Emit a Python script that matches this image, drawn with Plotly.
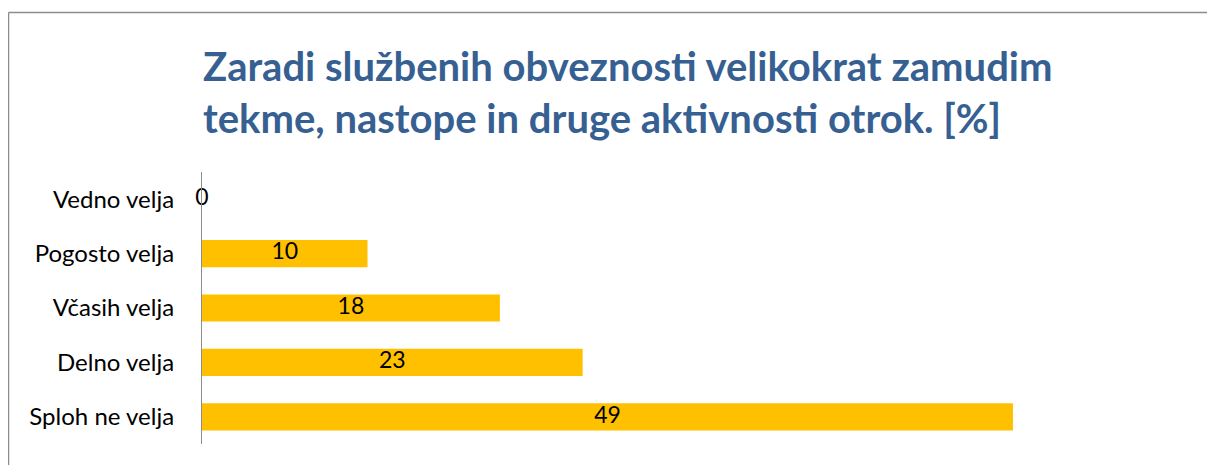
import plotly.graph_objects as go

categories = ["Vedno velja", "Pogosto velja", "Včasih velja", "Delno velja", "Sploh ne velja"]
values = [0, 10, 18, 23, 49]
title_lines = ["Zaradi službenih obveznosti velikokrat zamudim",
               "tekme, nastope in druge aktivnosti otrok. [%]"]

OFF = 8  # page offset of the plot div
W, H = 1215 - OFF, 465 - OFF
L, R, T, B = 202 - OFF, 20, 172 - OFF, 21
pw, ph = W - L - R, H - T - B

def px_x(x):
    return (x - OFF - L) / pw

def px_y(y):
    return (H - B - (y - OFF)) / ph

fig = go.Figure()
fig.add_trace(go.Bar(
    x=values, y=categories, orientation="h", width=0.5,
    marker=dict(color="#FFC000", line=dict(width=0)),
    hoverinfo="skip",
))
fig.add_trace(go.Scatter(
    x=[v / 2 for v in values], y=categories, mode="text",
    text=[str(v) for v in values], textposition="middle center",
    textfont=dict(family="Lato", size=23, color="#000000"),
    hoverinfo="skip", cliponaxis=False,
))

fig.add_annotation(
    xref="paper", yref="paper", x=px_x(201), y=px_y(40),
    xanchor="left", yanchor="top", align="left", showarrow=False,
    text="<b>" + "<br>".join(title_lines) + "</b>",
    font=dict(family="Lato", size=40, color="#376092"),
)

# chart-area border (left and top edges visible in the frame)
fig.add_shape(type="line", xref="paper", yref="paper",
              x0=px_x(8.5), x1=px_x(8.5), y0=px_y(12.5), y1=px_y(470),
              line=dict(color="#8C8C8C", width=1.5))
fig.add_shape(type="line", xref="paper", yref="paper",
              x0=px_x(8.5), x1=px_x(1216), y0=px_y(12.5), y1=px_y(12.5),
              line=dict(color="#8C8C8C", width=1.5))

fig.update_layout(
    width=W, height=H,
    margin=dict(l=L, r=R, t=T, b=B),
    paper_bgcolor="white", plot_bgcolor="white",
    showlegend=False,
    xaxis=dict(range=[0, 60], showgrid=False, zeroline=False, showticklabels=False,
               showline=False, fixedrange=True),
    yaxis=dict(categoryorder="array", categoryarray=categories, autorange="reversed",
               showgrid=False, zeroline=False, showline=True, linecolor="#8C8C8C",
               linewidth=1.2, ticks="", ticklabelstandoff=22,
               tickfont=dict(family="Lato", size=24, color="#000000")),
)

fig.write_html("out.html")
